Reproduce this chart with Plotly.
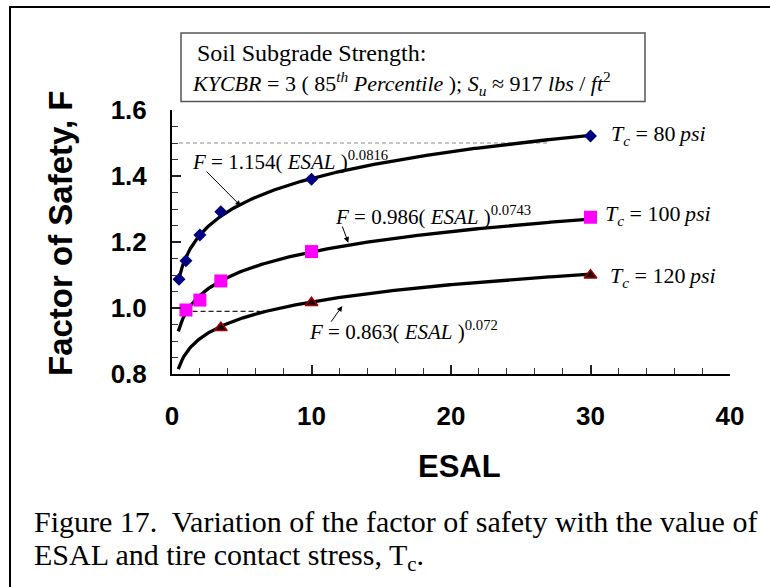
import numpy as np
import plotly.graph_objects as go

# Measured factor of safety at each ESAL level, per tire contact stress
esal_80 = [0.5, 1, 2, 3.5, 10, 30]
fs_80 = [1.087, 1.143, 1.221, 1.292, 1.390, 1.521]

esal_100 = [1, 2, 3.5, 10, 30]
fs_100 = [0.994, 1.024, 1.082, 1.171, 1.275]

esal_120 = [3.5, 10, 30]
fs_120 = [0.940, 1.016, 1.099]

# Power-law fits F = a * ESAL^b, as printed on the chart
fit_a = [1.154, 0.986, 0.863]
fit_b = [0.0816, 0.0743, 0.072]
fit_range = [0.45, 30]

# Reference levels (dashed) and how far along ESAL they run
ref_levels = [1.5, 0.99]
ref_start = [0.5, 0.9]
ref_end = [26.9, 6.3]

x_ticks = [0, 10, 20, 30, 40]
y_ticks = [0.8, 1.0, 1.2, 1.4, 1.6]

W, H = 770, 587
ML, MR, MT, MB = 172, 40, 110, 213
PW, PH = W - ML - MR, H - MT - MB


def px(xp):
    return (xp - ML) / PW


def py(yp):
    return (H - MB - yp) / PH


SERIF = "Liberation Serif"
SANS = "Liberation Sans"

fig = go.Figure()

# dashed reference levels
ref_styles = [dict(color="#8a8a8a", width=1.2, dash="4px,3px"),
              dict(color="#222222", width=1.2, dash="5px,3px")]
for lvl, x0, x1, st in zip(ref_levels, ref_start, ref_end, ref_styles):
    fig.add_trace(go.Scatter(x=[x0, x1], y=[lvl, lvl], mode="lines",
                             line=st, hoverinfo="skip", showlegend=False))

# fitted curves
xs = np.linspace(fit_range[0], fit_range[1], 300)
for a, b in zip(fit_a, fit_b):
    fig.add_trace(go.Scatter(x=xs, y=a * xs ** b, mode="lines",
                             line=dict(color="black", width=3.3),
                             hoverinfo="skip", showlegend=False))

# measured points
fig.add_trace(go.Scatter(x=esal_80, y=fs_80, mode="markers", cliponaxis=False,
                         marker=dict(symbol="diamond", size=10, color="#000080",
                                     line=dict(width=0)),
                         showlegend=False))
fig.add_trace(go.Scatter(x=esal_100, y=fs_100, mode="markers", cliponaxis=False,
                         marker=dict(symbol="square", size=13, color="#ff00ff",
                                     line=dict(width=0)),
                         showlegend=False))
fig.add_trace(go.Scatter(x=esal_120, y=fs_120, mode="markers", cliponaxis=False,
                         marker=dict(symbol="triangle-up", size=11, color="#1a0000",
                                     line=dict(width=1.5, color="#a00000")),
                         showlegend=False))

ann = []

# fit equations
eq_font = dict(family=SERIF, size=21, color="black")
eqs = [
    ("<i>F</i> = 1.154( <i>ESAL</i> )<sup>0.0816</sup>", 1.29, 1.448),
    ("<i>F</i> = 0.986( <i>ESAL</i> )<sup>0.0743</sup>", 11.52, 1.279),
    ("<i>F</i> = 0.863( <i>ESAL</i> )<sup>0.072</sup>", 9.66, 0.933),
]
for txt, x, y in eqs:
    ann.append(dict(text=txt, x=x, y=y, xref="x", yref="y", xanchor="left",
                    yanchor="middle", showarrow=False, font=eq_font))

# arrows from equations to curves
arrows = [((4.93, 1.309), (2.37, 1.418)),
          ((12.64, 1.198), (12.17, 1.2515)),
          ((12.21, 1.006), (11.33, 0.954))]
for (hx, hy), (tx, ty) in arrows:
    ann.append(dict(text="", x=hx, y=hy, ax=tx, ay=ty, xref="x", yref="y",
                    axref="x", ayref="y", showarrow=True, arrowhead=2,
                    arrowsize=1.1, arrowwidth=1, arrowcolor="black"))

# series labels
tc_font = dict(family=SERIF, size=22, color="black")
tcs = [("<i>T<sub>c</sub></i> = 80\u2009<i>psi</i>", 31.33, 1.524),
       ("<i>T<sub>c</sub></i> = 100\u2009<i>psi</i>", 30.9, 1.282),
       ("<i>T<sub>c</sub></i> = 120\u2009<i>psi</i>", 31.25, 1.094)]
for txt, x, y in tcs:
    ann.append(dict(text=txt, x=x, y=y, xref="x", yref="y", xanchor="left",
                    yanchor="middle", showarrow=False, font=tc_font))

# soil strength box text
ann.append(dict(text="Soil Subgrade Strength:", x=px(195), y=py(53),
                xref="paper", yref="paper", xanchor="left", yanchor="middle",
                showarrow=False, font=dict(family=SERIF, size=24, color="black")))
ann.append(dict(text="<i>KYCBR</i> = 3 ( 85<sup><i>th</i></sup> <i>Percentile</i> ); "
                     "<i>S<sub>u</sub></i> \u2248 917 <i>lbs</i> / <i>ft</i><sup>2</sup>",
                x=px(190), y=py(83), xref="paper", yref="paper", xanchor="left",
                yanchor="middle", showarrow=False,
                font=dict(family=SERIF, size=22, color="black")))

# axis titles
ann.append(dict(text="<b>Factor of Safety, F</b>", x=px(60), y=py(234),
                xref="paper", yref="paper", textangle=-90, showarrow=False,
                xanchor="center", yanchor="middle",
                font=dict(family=SANS, size=33, color="black")))
ann.append(dict(text="<b>ESAL</b>", x=px(459), y=py(466), xref="paper", yref="paper",
                showarrow=False, xanchor="center", yanchor="middle",
                font=dict(family=SANS, size=31, color="black")))

# caption
cap_font = dict(family=SERIF, size=30, color="black")
ann.append(dict(text="Figure 17.\u00a0 Variation of the factor of safety with the value of",
                x=px(32), y=py(521), xref="paper", yref="paper", xanchor="left",
                yanchor="middle", showarrow=False, font=cap_font))
ann.append(dict(text="ESAL and tire contact stress, T<sub>c</sub>.",
                x=px(32), y=py(557), xref="paper", yref="paper", xanchor="left",
                yanchor="middle", showarrow=False, font=cap_font))

shapes = [
    # box around the soil strength note
    dict(type="rect", xref="paper", yref="paper", x0=px(181), x1=px(645),
         y0=py(101.5), y1=py(33), line=dict(color="#555555", width=1.5),
         fillcolor="rgba(0,0,0,0)"),
    # figure frame
    dict(type="rect", xref="paper", yref="paper", x0=px(10), x1=px(800),
         y0=py(620), y1=py(7), line=dict(color="black", width=2),
         fillcolor="rgba(0,0,0,0)"),
]

fig.update_layout(
    width=W, height=H,
    margin=dict(l=ML, r=MR, t=MT, b=MB, pad=0),
    paper_bgcolor="white", plot_bgcolor="white",
    annotations=ann, shapes=shapes, showlegend=False,
)

fig.update_xaxes(
    range=[0, 40], tickvals=x_ticks, ticktext=[str(v) for v in x_ticks],
    showline=True, linecolor="black", linewidth=2,
    ticks="inside", ticklen=9, tickwidth=2, tickcolor="#222222",
    minor=dict(ticks="inside", dtick=2, tick0=0, ticklen=6, tickwidth=1.3,
               tickcolor="#333333"),
    showgrid=False, zeroline=False, ticklabelstandoff=18,
    tickfont=dict(family=SANS, size=26, color="black", weight="bold"),
)
fig.update_yaxes(
    range=[0.8, 1.6], tickvals=y_ticks, ticktext=[f"{v:.1f}" for v in y_ticks],
    showline=True, linecolor="black", linewidth=2,
    ticks="inside", ticklen=9, tickwidth=2, tickcolor="#222222",
    minor=dict(ticks="inside", dtick=0.05, tick0=0.8, ticklen=6, tickwidth=1.3,
               tickcolor="#333333"),
    showgrid=False, zeroline=False, ticklabelstandoff=18,
    tickfont=dict(family=SANS, size=26, color="black", weight="bold"),
)

fig.write_html("out.html")
